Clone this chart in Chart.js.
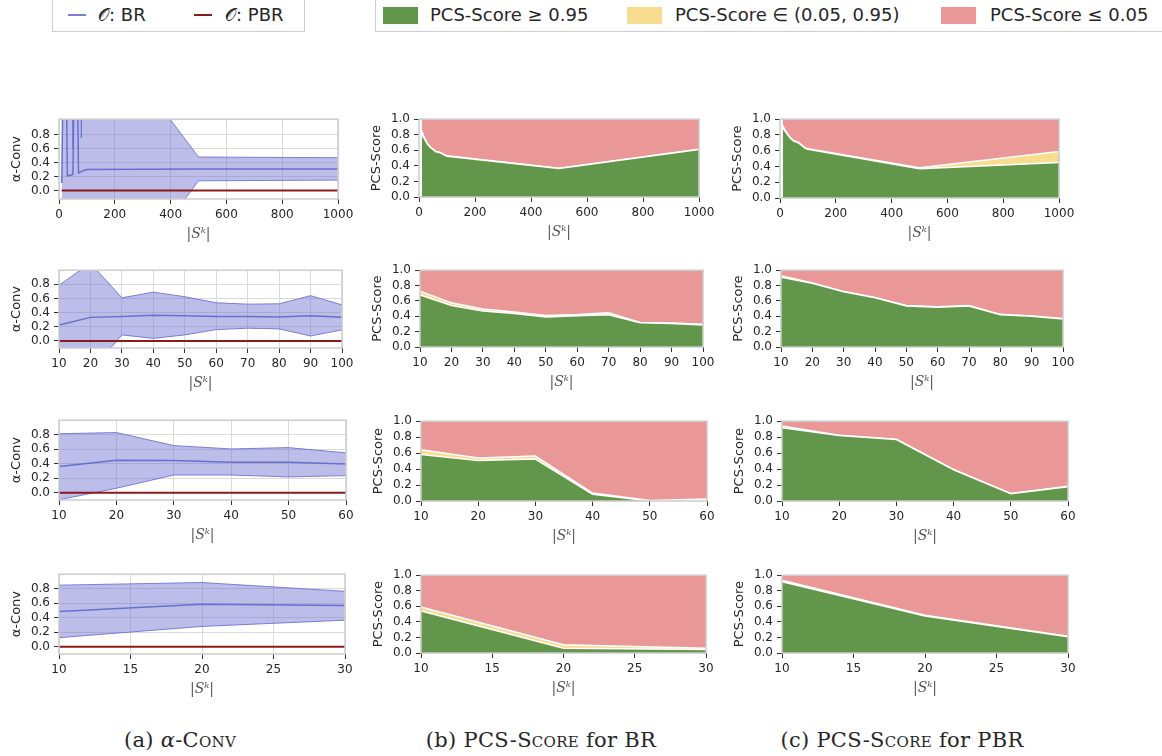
<!DOCTYPE html>
<html><head><meta charset="utf-8">
<script src="https://cdn.jsdelivr.net/npm/chart.js@4.4.0/dist/chart.umd.min.js"></script>
<style>
body{margin:0;width:1162px;height:756px;background:#fff;position:relative;overflow:hidden;font-family:"DejaVu Sans",sans-serif;color:#262626;}
canvas{position:absolute;}
.lg{position:absolute;top:-4px;height:36px;border:1.5px solid #cfcfcf;box-sizing:border-box;background:#fff;}
.sw{position:absolute;}
.tx{position:absolute;top:4px;font-size:18px;line-height:22px;white-space:nowrap;}
.cap{position:absolute;top:726px;font-family:"DejaVu Serif",serif;font-size:21px;line-height:28px;white-space:nowrap;text-align:center;width:360px;letter-spacing:0.3px;}
.sc{font-variant:small-caps;}
</style>
</head><body>
<div class="lg" style="left:52px;width:253px;"></div>
<div class="sw" style="left:68px;top:14px;width:18px;height:2px;background:#7b7fd6;"></div>
<div class="tx" style="left:98px;">𝒪: BR</div>
<div class="sw" style="left:194px;top:14px;width:18px;height:2px;background:#8b1a1a;"></div>
<div class="tx" style="left:225px;">𝒪: PBR</div>
<div class="lg" style="left:375px;width:800px;"></div>
<div class="sw" style="left:383px;top:7px;width:35px;height:17px;background:#62964a;"></div>
<div class="tx" style="left:430px;">PCS-Score ≥ 0.95</div>
<div class="sw" style="left:627px;top:7px;width:35px;height:17px;background:#f8dc8f;"></div>
<div class="tx" style="left:675px;">PCS-Score ∈ (0.05, 0.95)</div>
<div class="sw" style="left:941px;top:7px;width:35px;height:17px;background:#e99797;"></div>
<div class="tx" style="left:990px;">PCS-Score ≤ 0.05</div>
<div class="cap" style="left:0px;">(a) <i>α</i>-C<span class="sc">onv</span></div>
<div class="cap" style="left:361px;">(b) PCS-S<span class="sc">core</span> for BR</div>
<div class="cap" style="left:722px;">(c) PCS-S<span class="sc">core</span> for PBR</div>
<script>
// ---------- x values per row ----------
const xR1 = [10,20,30,40,50,60,70,80,90,100,500,1000];
const xR2 = [10,20,30,40,50,60,70,80,90,100];
const xR3 = [10,20,30,40,50,60];
const xR4 = [10,20,30];
// ---------- tick labels ----------
const xTicksR1 = [0,200,400,600,800,1000];
const xTicksR2 = [10,20,30,40,50,60,70,80,90,100];
const xTicksR3 = [10,20,30,40,50,60];
const xTicksR4 = [10,15,20,25,30];
const yTicksConv = [0.0,0.2,0.4,0.6,0.8];
const yTicksPcs = [0.0,0.2,0.4,0.6,0.8,1.0];

// ---------- (a) alpha-Conv : BR mean / band, PBR ----------
const brMeanR1  = [0.11, 3.5, 0.21, 0.22, 0.23, 3.5, 0.25, 0.27, 0.29, 0.30, 0.31, 0.31];
const brUpperR1 = [4.0, 9.0, 4.0, 4.0, 0.60, 9.0, 4.0, 0.75, 3.0, 2.6, 0.48, 0.47];
const brLowerR1 = [-3.8, -2.0, -3.6, -3.56, -0.14, -2.0, -3.5, -0.21, -2.4, -2.0, 0.14, 0.15];
const pbrR1     = [0,0,0,0,0,0,0,0,0,0,0,0];

const brMeanR2  = [0.225, 0.333, 0.346, 0.364, 0.355, 0.346, 0.346, 0.34, 0.355, 0.333];
const brUpperR2 = [0.787, 1.10, 0.61, 0.69, 0.625, 0.54, 0.52, 0.525, 0.64, 0.51];
const brLowerR2 = [-0.34, -0.43, 0.085, 0.036, 0.085, 0.16, 0.18, 0.17, 0.07, 0.157];
const pbrR2     = [0,0,0,0,0,0,0,0,0,0];

const brMeanR3  = [0.36, 0.449, 0.444, 0.422, 0.422, 0.396];
const brUpperR3 = [0.813, 0.83, 0.65, 0.604, 0.622, 0.55];
const brLowerR3 = [-0.098, 0.062, 0.244, 0.244, 0.218, 0.236];
const pbrR3     = [0,0,0,0,0,0];

const brMeanR4  = [0.487, 0.585, 0.568];
const brUpperR4 = [0.849, 0.885, 0.764];
const brLowerR4 = [0.125, 0.28, 0.366];
const pbrR4     = [0,0,0];

// ---------- (b) PCS-Score for BR ----------
const brHighR1 = [0.80, 0.745, 0.68, 0.64, 0.61, 0.58, 0.575, 0.56, 0.54, 0.525, 0.365, 0.61];
const brMidR1  = [0.05, 0.01, 0.005, 0.005, 0.005, 0.005, 0.005, 0.005, 0.005, 0.005, 0.005, 0.005];
const brLowR1  = [0.15, 0.245, 0.315, 0.355, 0.385, 0.415, 0.42, 0.435, 0.455, 0.47, 0.63, 0.385];
const brHighR2 = [0.676, 0.54, 0.469, 0.436, 0.39, 0.407, 0.42, 0.315, 0.307, 0.286];
const brMidR2  = [0.05, 0.035, 0.025, 0.02, 0.02, 0.015, 0.025, 0.005, 0.005, 0.01];
const brLowR2  = [0.274, 0.425, 0.506, 0.544, 0.59, 0.578, 0.555, 0.68, 0.688, 0.704];
const brHighR3 = [0.583, 0.506, 0.526, 0.085, 0.0, 0.005];
const brMidR3  = [0.06, 0.032, 0.037, 0.015, 0.005, 0.02];
const brLowR3  = [0.357, 0.462, 0.437, 0.90, 0.995, 0.975];
const brHighR4 = [0.54, 0.06, 0.045];
const brMidR4  = [0.05, 0.045, 0.015];
const brLowR4  = [0.41, 0.895, 0.94];

// ---------- (c) PCS-Score for PBR ----------
const pbrHighR1 = [0.89, 0.84, 0.79, 0.75, 0.72, 0.71, 0.69, 0.66, 0.63, 0.62, 0.37, 0.45];
const pbrMidR1  = [0.03, 0.01, 0.005, 0.005, 0.005, 0.005, 0.005, 0.005, 0.005, 0.005, 0.015, 0.14];
const pbrLowR1  = [0.08, 0.15, 0.205, 0.245, 0.275, 0.285, 0.305, 0.335, 0.365, 0.375, 0.615, 0.41];
const pbrHighR2 = [0.909, 0.83, 0.718, 0.64, 0.535, 0.519, 0.535, 0.42, 0.40, 0.365];
const pbrMidR2  = [0.02, 0.005, 0.005, 0.005, 0.005, 0.005, 0.005, 0.005, 0.005, 0.005];
const pbrLowR2  = [0.071, 0.165, 0.277, 0.355, 0.46, 0.476, 0.46, 0.575, 0.595, 0.63];
const pbrHighR3 = [0.919, 0.82, 0.77, 0.39, 0.09, 0.18];
const pbrMidR3  = [0.02, 0.005, 0.005, 0.005, 0.005, 0.005];
const pbrLowR3  = [0.061, 0.175, 0.225, 0.605, 0.905, 0.815];
const pbrHighR4 = [0.915, 0.475, 0.21];
const pbrMidR4  = [0.02, 0.01, 0.005];
const pbrLowR4  = [0.065, 0.515, 0.785];

// ---------- styles ----------
const C_BLUE = '#6a6ecf';
const C_BAND_EDGE = 'rgba(106,110,207,0.85)';
const C_BAND = 'rgba(106,110,207,0.45)';
const C_RED = '#8b1a1a';
const C_GREEN = '#62964a';
const C_YELLOW = '#f8dc8f';
const C_PINK = '#e99797';

Chart.defaults.font.family = 'DejaVu Sans';
Chart.defaults.font.size = 12;
Chart.defaults.color = '#262626';

const zip = (xs, ys) => xs.map((x, i) => ({x: x, y: ys[i]}));

const framePlugin = {
  id: 'frame',
  afterDatasetsDraw(chart) {
    const {ctx, chartArea: a} = chart;
    ctx.save();
    ctx.strokeStyle = '#cccccc';
    ctx.lineWidth = 1.5;
    ctx.strokeRect(a.left, a.top, a.right - a.left, a.bottom - a.top);
    ctx.restore();
  }
};

const PL = 54, PT = 8, PR = 22, XH = 46;

function makeScales(xr, xTicks, yr, yTicks, yTitle, grid, stacked) {
  return {
    x: {
      type: 'linear', min: xr[0], max: xr[1],
      afterBuildTicks: s => { s.ticks = xTicks.map(v => ({value: v})); },
      afterFit: s => { s.height = XH; },
      ticks: {autoSkip: false, maxRotation: 0, minRotation: 0, padding: 4, color: '#262626', font: {size: 12}, callback: v => String(v)},
      grid: {display: true, drawOnChartArea: grid, color: '#dadada', lineWidth: 1, tickLength: 5, tickColor: '#333', tickWidth: 1},
      border: {display: false},
      title: {display: true, text: '|Sᵏ|', color: '#555', font: {family: 'DejaVu Serif', style: 'italic', size: 14}, padding: {top: 0, bottom: 2}}
    },
    y: {
      type: 'linear', min: yr[0], max: yr[1], stacked: stacked,
      afterBuildTicks: s => { s.ticks = yTicks.map(v => ({value: v})); },
      afterFit: s => { s.width = PL; },
      ticks: {autoSkip: false, padding: 4, color: '#262626', font: {size: 12}, callback: v => Number(v).toFixed(1)},
      grid: {display: true, drawOnChartArea: grid, color: '#dadada', lineWidth: 1, tickLength: 5, tickColor: '#333', tickWidth: 1},
      border: {display: false},
      title: {display: true, text: yTitle, color: '#262626', font: {size: 13}, padding: {top: 4, bottom: 0}}
    }
  };
}

function place(rect, datasets, scales) {
  const cv = document.createElement('canvas');
  const L = Math.round(rect[0]), T = Math.round(rect[1]), R = Math.round(rect[2]), B = Math.round(rect[3]);
  const w = (R - L) + PL + PR, h = (B - T) + PT + XH;
  cv.width = w; cv.height = h;
  cv.style.width = w + 'px'; cv.style.height = h + 'px';
  cv.style.left = (L - PL) + 'px';
  cv.style.top = (T - PT) + 'px';
  document.body.appendChild(cv);
  new Chart(cv, {
    type: 'line',
    data: {datasets: datasets},
    options: {
      responsive: false, animation: false, devicePixelRatio: 1,
      layout: {padding: {left: 0, top: PT, right: PR, bottom: 0}},
      elements: {line: {tension: 0}, point: {radius: 0, hoverRadius: 0}},
      plugins: {legend: {display: false}, tooltip: {enabled: false}},
      scales: scales
    },
    plugins: [framePlugin]
  });
}

function convChart(rect, xs, mean, upper, lower, pbr, xr, xTicks, yr) {
  place(rect, [
    {data: zip(xs, pbr), borderColor: C_RED, borderWidth: 2, fill: false},
    {data: zip(xs, mean), borderColor: C_BLUE, borderWidth: 1.5, fill: false},
    {data: zip(xs, upper), borderColor: C_BAND_EDGE, borderWidth: 1, fill: '+1', backgroundColor: C_BAND},
    {data: zip(xs, lower), borderColor: C_BAND_EDGE, borderWidth: 1, fill: false}
  ], makeScales(xr, xTicks, yr, yTicksConv, 'α-Conv', true, false));
}

function pcsChart(rect, xs, high, mid, low, xr, xTicks) {
  place(rect, [
    {data: zip(xs, high), fill: 'origin', backgroundColor: C_GREEN, borderColor: '#ffffff', borderWidth: 1.5},
    {data: zip(xs, mid), fill: '-1', backgroundColor: C_YELLOW, borderColor: '#ffffff', borderWidth: 1.5},
    {data: zip(xs, low), fill: '-1', backgroundColor: C_PINK, borderColor: C_PINK, borderWidth: 0}
  ], makeScales(xr, xTicks, [0, 1], yTicksPcs, 'PCS-Score', false, true));
}

// column (a)
convChart([58.5, 116, 338, 198.5], xR1, brMeanR1, brUpperR1, brLowerR1, pbrR1, [0, 1000], xTicksR1, [-0.12, 1.02]);
convChart([58.7, 266.7, 342, 348], xR2, brMeanR2, brUpperR2, brLowerR2, pbrR2, [10, 100], xTicksR2, [-0.1, 1.0]);
convChart([59.3, 417.3, 345.7, 500], xR3, brMeanR3, brUpperR3, brLowerR3, pbrR3, [10, 60], xTicksR3, [-0.1, 1.0]);
convChart([59.3, 571, 345, 653.7], xR4, brMeanR4, brUpperR4, brLowerR4, pbrR4, [10, 30], xTicksR4, [-0.1, 1.0]);
// column (b)
pcsChart([419.3, 116, 699, 197.3], xR1, brHighR1, brMidR1, brLowR1, [0, 1000], xTicksR1);
pcsChart([420, 266.7, 702.7, 347], xR2, brHighR2, brMidR2, brLowR2, [10, 100], xTicksR2);
pcsChart([420.7, 418.3, 706.7, 500.7], xR3, brHighR3, brMidR3, brLowR3, [10, 60], xTicksR3);
pcsChart([421, 571.5, 706, 653.3], xR4, brHighR4, brMidR4, brLowR4, [10, 30], xTicksR4);
// column (c)
pcsChart([780.3, 116, 1059.3, 197.7], xR1, pbrHighR1, pbrMidR1, pbrLowR1, [0, 1000], xTicksR1);
pcsChart([781, 266.7, 1063.3, 347], xR2, pbrHighR2, pbrMidR2, pbrLowR2, [10, 100], xTicksR2);
pcsChart([781.7, 418.3, 1067.7, 500.7], xR3, pbrHighR3, pbrMidR3, pbrLowR3, [10, 60], xTicksR3);
pcsChart([782, 571.5, 1068, 653.3], xR4, pbrHighR4, pbrMidR4, pbrLowR4, [10, 30], xTicksR4);
</script>
</body></html>
